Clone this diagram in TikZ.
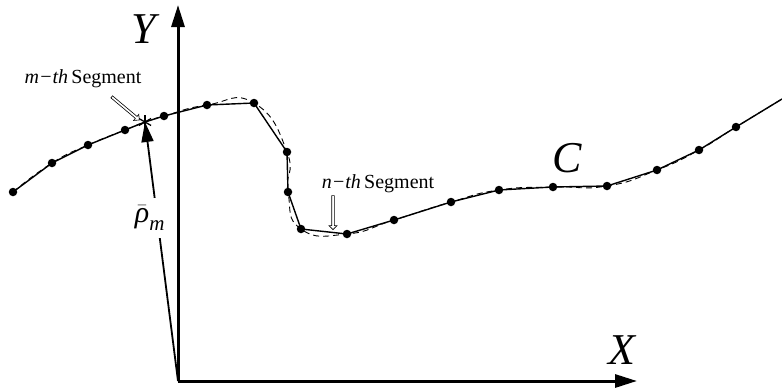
\documentclass[tikz,border=0pt]{standalone}
\usepackage{amsmath}
\usepackage{fontspec}
\setmainfont{Liberation Serif}
\usetikzlibrary{arrows.meta,shapes.arrows}

\tikzset{
  dot/.style={circle, fill=black, inner sep=0pt, minimum size=8.5pt},
  axis/.style={line width=3pt, -{Triangle[length=22pt,width=13pt]}},
  polyline/.style={line width=1.4pt},
  truecurve/.style={line width=0.9pt, dash pattern=on 6pt off 4pt},
  hollowarrow/.style={single arrow, draw, fill=white, line width=0.6pt,
    minimum width=8pt, single arrow head extend=2.5pt,
    single arrow head indent=0pt, inner sep=0.9pt},
  biglabel/.style={font=\fontsize{44}{44}\selectfont\itshape},
  seglabel/.style={font=\fontsize{20}{20}\selectfont},
}

\begin{document}
\begin{tikzpicture}[x=1pt, y=-1pt]
  % --- frame: 782 x 391, y grows downwards ---
  \useasboundingbox (0,0) rectangle (782,391);
  % --- axes: origin O(178,381) ---
  \coordinate (O) at (178,381);
  \coordinate (Ytip) at (178,5);
  \coordinate (Xtip) at (637,381);
  \draw[axis] (O) -- (Ytip);
  \draw[axis] (O) -- (Xtip);
  \node[biglabel] (ylab) at (144,29) {Y};
  \node[biglabel] (xlab) at (622,350) {X};
  % --- sample points of the curve; p5 is the star point, p21 leaves the frame ---
  \foreach \n/\x/\y in {1/13/192, 2/52/163, 3/88/145, 4/125/130, 5/145/122,
      6/164/116, 7/207/105, 8/254/103, 9/287/152, 10/288/192, 11/301/229,
      12/347/234, 13/394/220, 14/451/202, 15/499/190, 16/553/187,
      17/607/186, 18/657/170, 19/699/150, 20/736/127, 21/782/99}
    \coordinate (p\n) at (\x,\y);
  % true curve C (dashed), then the polyline through the samples
  \draw[truecurve] plot[smooth, tension=0.9] coordinates {(p1) (p2) (p3) (p4)
    (p5) (p6) (p7) (p8) (p9) (p10) (p11) (p12) (p13) (p14) (p15) (p16) (p17)
    (p18) (p19) (p20) (p21)};
  \draw[polyline] (p1) \foreach \n in {2,...,21} { -- (p\n) };
  \foreach \n in {1,2,3,4,6,7,8,9,10,11,12,13,14,15,16,17,18,19,20}
    \node[dot] (d\n) at (p\n) {};
  \node[biglabel] (clab) at (567,158) {C};
  % star marker at the m-th point
  \foreach \a in {90,30,150}
    \draw[line width=1.3pt] (p5) ++(\a:7) -- ++(\a+180:14);
  % --- position vector rho_m from origin to the star ---
  \draw[line width=1.8pt, -{Triangle[length=20pt,width=12pt]}] (O) -- (p5);
  \node[fill=white, inner sep=1pt, minimum height=40pt,
        font=\fontsize{30}{30}\selectfont] (rholab) at (150,218)
        {$\bar{\textit{ρ}}_{\textit{m}}$};
  % --- segment labels with hollow pointers ---
  \node[seglabel] (mlab) at (83,79) {\textit{m−th}\,Segment};
  \node[hollowarrow, minimum height=36pt, rotate=-40] (marrow) at (125,108) {};
  \node[seglabel] (nlab) at (378,184) {\textit{n−th}\,Segment};
  \node[hollowarrow, minimum height=34pt, rotate=-90] (narrow) at (333,212) {};
\end{tikzpicture}
\end{document}
